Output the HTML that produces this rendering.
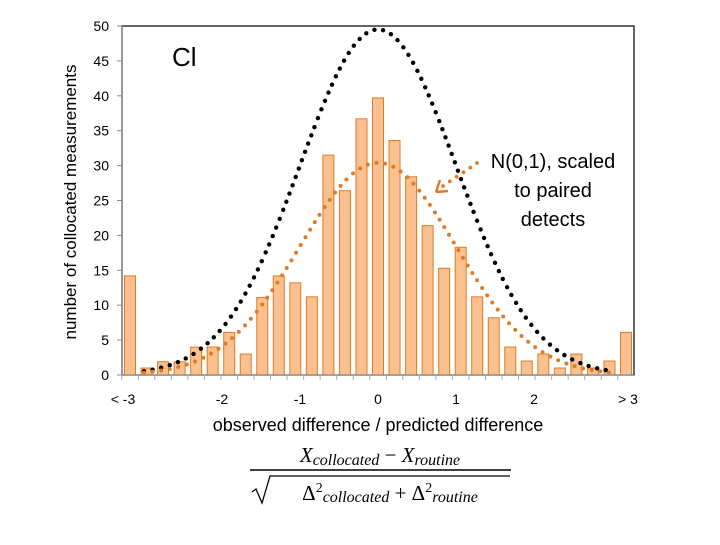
<!DOCTYPE html>
<html><head><meta charset="utf-8"><style>
body{margin:0;background:#fff;width:720px;height:540px;overflow:hidden;font-family:"Liberation Sans",sans-serif}
</style></head><body>
<svg id="c" width="720" height="540" xmlns="http://www.w3.org/2000/svg"></svg>
<script>
const categories=["<-3","-2.9","-2.7","-2.5","-2.3","-2.1","-1.9","-1.7","-1.5","-1.3","-1.1","-0.9","-0.7","-0.5","-0.3","-0.1","0.1","0.3","0.5","0.7","0.9","1.1","1.3","1.5","1.7","1.9","2.1","2.3","2.5","2.7",">3"];
const counts=[14.2,1,1.9,1.9,4,4,6.1,3,11.1,14.2,13.2,11.2,31.5,26.4,36.7,39.7,33.6,28.4,21.4,15.3,18.3,11.2,8.2,4,2,3,1,3,1,2,6.1];
const yTicks=[0,5,10,15,20,25,30,35,40,45,50];
const xTickVals=[-2,-1,0,1,2];
const xTickLabels=["-2","-1","0","1","2"];
const blackPeak=49.5;
const orangePeak=30.4;
const NS="http://www.w3.org/2000/svg";
const svg=document.getElementById('c');
const X0=122,X1=634,Y0=375,Y1=26;
const yScale=v=>Y0-(v/50)*(Y0-Y1);
const barX=i=>130+i*(626-130)/(categories.length-1);
const valX=v=>378+v*78;
function mk(t,a,p){const e=document.createElementNS(NS,t);for(const k in a)e.setAttribute(k,a[k]);(p||svg).appendChild(e);return e;}
let f=mk('rect',{x:X0,y:Y1,width:X1-X0,height:Y0-Y1,fill:'none',stroke:'#000','stroke-width':1.2});

let ya=mk('line',{x1:X0,y1:Y1,x2:X0,y2:Y0,stroke:'#888','stroke-width':1.5});

yTicks.forEach(t=>{const y=yScale(t);
 mk('line',{x1:X0-5,y1:y,x2:X0,y2:y,stroke:'#888'});
 const tx=mk('text',{x:X0-13,y:y+5,'text-anchor':'end','font-size':14,fill:'#000'});tx.textContent=t;
 });
const bw=11;
counts.forEach((c,i)=>{const x=barX(i);
 const r=mk('rect',{x:x-bw/2,y:yScale(c),width:bw,height:Y0-yScale(c),fill:'#fac090',stroke:'#e07b25','stroke-width':1});
 });
let xa=mk('line',{x1:X0,y1:Y0,x2:X1,y2:Y0,stroke:'#888','stroke-width':1.2});

categories.forEach((c,i)=>{const x=barX(i)-8.25;mk('line',{x1:x,y1:Y0,x2:x,y2:Y0+5,stroke:'#aaa'});});
xTickVals.forEach((v,i)=>{const t=mk('text',{x:valX(v),y:404,'text-anchor':'middle','font-size':14});t.textContent=xTickLabels[i];
 });
let lt=mk('text',{x:123,y:404,'text-anchor':'middle','font-size':14});lt.textContent='< -3';

let rt=mk('text',{x:628,y:404,'text-anchor':'middle','font-size':14});rt.textContent='> 3';

function curve(peak,color,r,name,gap){const g=mk('g',{});
 let px=null,py=null,acc=gap;
 for(let v=-3;v<=3.0001;v+=0.005){const x=valX(v),y=yScale(peak*Math.exp(-v*v/2));
  if(px!==null)acc+=Math.hypot(x-px,y-py);
  if(acc>=gap){mk('circle',{cx:x,cy:y,r:r,fill:color},g);acc=0;}
  px=x;py=y;}}
curve(blackPeak,'#000',2.2,'normal-curve-black',8.6);
curve(orangePeak,'#e07b25',2,'normal-curve-scaled',8.6);
const ag=mk('g',{});
for(let t=0;t<=1;t+=0.2){mk('circle',{cx:477-t*(477-443),cy:163+t*(186-163),r:1.9,fill:'#e07b25'},ag);}
mk('path',{d:'M436 192 L440 180 M436 192 L448 191',stroke:'#e07b25','stroke-width':2.5,fill:'none'},ag);
[['N(0,1), scaled',553,168],['to paired',553,197],['detects',553,226]].forEach(a=>{const t=mk('text',{x:a[1],y:a[2],'text-anchor':'middle','font-size':20});t.textContent=a[0];
 });
let cl=mk('text',{x:172,y:66,'font-size':26});cl.textContent='Cl';
let yt=mk('text',{x:0,y:0,'font-size':17,'text-anchor':'middle',transform:'translate(76,202) rotate(-90)'});yt.textContent='number of collocated measurements';

let xt=mk('text',{x:378,y:431,'font-size':18,'text-anchor':'middle'});xt.textContent='observed difference / predicted difference';

const fg=mk('g',{});
let n=mk('text',{x:380,y:462,'font-size':21,'text-anchor':'middle','font-family':'Liberation Serif, serif','font-style':'italic'},fg);
n.innerHTML='X<tspan font-size="16" dy="3">collocated</tspan><tspan dy="-3" font-style="normal"> − </tspan>X<tspan font-size="16" dy="3">routine</tspan>';
mk('line',{x1:250,y1:470,x2:511,y2:470,stroke:'#000','stroke-width':1.5},fg);
mk('path',{d:'M252 492 L256 489 L262 503 L270 476 L510 476',stroke:'#000','stroke-width':1.3,fill:'none'},fg);
let d=mk('text',{x:390,y:500,'font-size':21,'text-anchor':'middle','font-family':'Liberation Serif, serif','font-style':'italic'},fg);
d.innerHTML='<tspan font-style="normal">Δ</tspan><tspan font-size="14" dy="-8" font-style="normal">2</tspan><tspan font-size="16" dy="10">collocated</tspan><tspan dy="-2" font-style="normal"> + Δ</tspan><tspan font-size="14" dy="-8" font-style="normal">2</tspan><tspan font-size="16" dy="10">routine</tspan>';
</script>
</body></html>
